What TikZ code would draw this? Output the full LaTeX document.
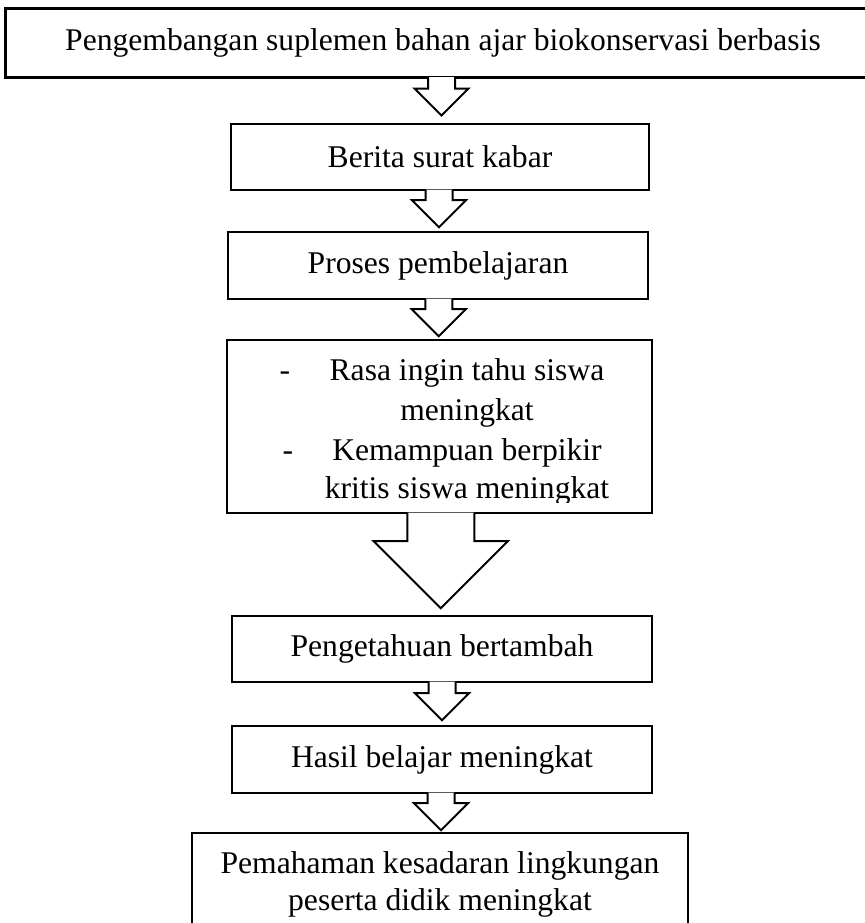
\documentclass[tikz,border=0pt]{standalone}
\usepackage{fontspec}
\setmainfont{Liberation Serif}
\usetikzlibrary{calc}

\tikzset{
  flowbox/.style={draw, line width=1.2pt, inner sep=0pt, font=\fontsize{15.8}{20}\selectfont},
  boxtext/.style={inner sep=0pt, font=\fontsize{15.8}{20}\selectfont},
  blockarrow/.style={draw, fill=white, line width=1pt, line join=miter},
}

% block arrow below #1 towards #2: stem length #3, head size #4
\newcommand{\flowarrow}[4]{%
  \coordinate (mid) at ($(#1.south)!0.5!(#2.north)$);
  \coordinate (top) at (mid |- #1.south);
  \filldraw[blockarrow] ($(top)+(-#4/2,-1.5)$) -- ($(top)+(-#4/2,#3)$) -- ($(top)+(-#4,#3)$)
    -- ($(top)+(0,#3+#4)$) -- ($(top)+(#4,#3)$) -- ($(top)+(#4/2,#3)$) -- ($(top)+(#4/2,-1.5)$);
}

\begin{document}
\begin{tikzpicture}[x=0.5pt,y=-0.5pt]
      \useasboundingbox (0,0) rectangle (864,923);
      \node[flowbox, line width=1.5pt, minimum width=438pt, minimum height=34.5pt] (top) at (443,42.5) {Pengembangan suplemen bahan ajar biokonservasi berbasis};
      \node[flowbox, minimum width=209pt, minimum height=33pt] (b2) at (440,157) {Berita surat kabar};
      \node[flowbox, minimum width=210pt, minimum height=33.5pt] (b3) at (438,265.5) {Proses pembelajaran};
      \node[flowbox, minimum width=212.5pt, minimum height=86.5pt] (b4) at (439.5,426.5) {};
      \begin{scope}
        \clip (227,340) rectangle (652,502);
        \node[boxtext, anchor=base] (d1) at (285,380) {-};
        \node[boxtext, anchor=base] (l1) at (467,380) {Rasa ingin tahu siswa};
        \node[boxtext, anchor=base] (l2) at (467,420) {meningkat};
        \node[boxtext, anchor=base] (d2) at (288,460) {-};
        \node[boxtext, anchor=base] (l3) at (467,460) {Kemampuan berpikir};
        \node[boxtext, anchor=base] (l4) at (467,498) {kritis siswa meningkat};
      \end{scope}
      \node[flowbox, minimum width=210pt, minimum height=33pt] (b5) at (442,649) {Pengetahuan bertambah};
      \node[flowbox, minimum width=210pt, minimum height=33.5pt] (b6) at (442,759.5) {Hasil belajar meningkat};
      \node[flowbox, minimum width=248pt, minimum height=70pt, anchor=north] (b7) at (440,832) {};
      \node[boxtext, anchor=base] (l5) at (440,873) {Pemahaman kesadaran lingkungan};
      \node[boxtext, anchor=base] (l6) at (440,910) {peserta didik meningkat};
      \flowarrow{top}{b2}{10}{27}
      \flowarrow{b2}{b3}{9}{27}
      \flowarrow{b3}{b4}{9}{27}
      \flowarrow{b4}{b5}{27}{67}
      \flowarrow{b5}{b6}{10}{27}
      \flowarrow{b6}{b7}{9}{27}
    \end{tikzpicture}
\end{document}
